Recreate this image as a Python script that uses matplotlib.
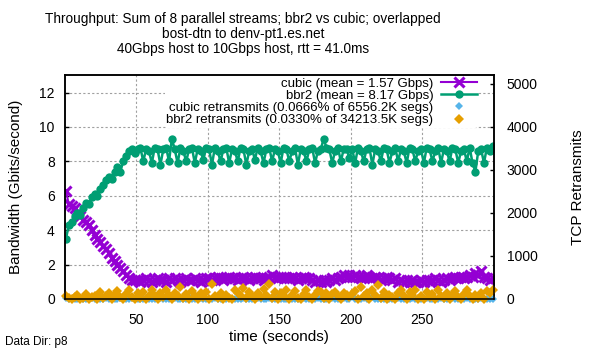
import matplotlib
matplotlib.use("Agg")
import matplotlib.pyplot as plt
import numpy as np

plt.rcParams['font.family'] = ['Liberation Sans', 'DejaVu Sans']

# time samples (seconds), one every 2 s
t = np.arange(1, 300, 2)

# throughput in Gbps
cubic = [6.3, 5.5, 5.4, 5.3, 5.0, 4.8, 4.6, 4.5, 4.3, 4.0, 3.7, 3.5, 3.3, 3.1, 2.9, 2.7, 2.4, 2.2, 2.0, 1.8, 1.6, 1.4, 1.2, 1.1, 1.1,
         1.1, 1.0, 1.1, 1.2, 1.1, 1.0, 1.1, 1.2, 1.1, 1.1, 1.0, 1.2, 1.1, 1.2, 1.1, 1.0, 1.1, 1.2, 1.1, 1.1, 1.2, 1.1, 1.0, 1.1, 1.2,
         1.2, 1.1, 1.2, 1.3, 1.2, 1.1, 1.2, 1.3, 1.2, 1.2, 1.1, 1.2, 1.3, 1.2, 1.1, 1.2, 1.3, 1.2, 1.2, 1.1, 1.2, 1.3, 1.4, 1.3, 1.2,
         1.3, 1.2, 1.3, 1.2, 1.3, 1.2, 1.1, 1.2, 1.3, 1.2, 1.2, 1.1, 1.0, 1.1, 1.0, 1.1, 1.0, 1.1, 1.2, 1.1, 1.2, 1.3, 1.4, 1.3, 1.4,
         1.3, 1.4, 1.3, 1.2, 1.3, 1.4, 1.3, 1.2, 1.3, 1.2, 1.1, 1.2, 1.3, 1.2, 1.1, 1.2, 1.0, 1.1, 1.0, 1.1, 1.0, 1.1, 1.0, 1.0, 1.1,
         1.0, 1.1, 1.0, 1.1, 1.2, 1.1, 1.0, 1.1, 1.2, 1.1, 1.2, 1.3, 1.2, 1.3, 1.2, 1.3, 1.4, 1.3, 1.5, 1.4, 1.6, 1.3, 1.2, 1.1, 1.2]

bbr2 = [3.5, 4.3, 4.5, 4.8, 5.0, 4.9, 5.3, 5.6, 5.5, 5.9, 6.1, 6.0, 6.4, 6.6, 6.9, 7.1, 7.0, 7.4, 7.7, 7.4, 8.0, 8.3, 8.6, 8.7, 8.5,
        8.7, 8.8, 8.0, 8.7, 8.6, 7.9, 8.8, 8.7, 7.8, 8.7, 8.8, 8.0, 9.3, 8.7, 7.9, 8.8, 8.6, 8.0, 8.7, 8.8, 7.9, 8.7, 8.6, 8.1, 8.8,
        8.7, 7.8, 8.8, 8.6, 8.0, 8.7, 8.8, 7.9, 8.7, 8.6, 8.0, 8.8, 8.7, 7.8, 8.6, 8.7, 8.1, 8.8, 8.6, 7.9, 8.7, 8.8, 8.0, 8.7, 8.6,
        7.9, 8.8, 8.7, 8.0, 8.6, 8.8, 7.8, 8.7, 8.6, 8.0, 8.7, 8.8, 7.9, 8.6, 8.7, 9.3, 8.8, 8.7, 7.9, 8.6, 8.8, 8.0, 8.7, 8.7, 8.2,
        8.7, 7.9, 8.8, 8.6, 8.0, 8.7, 8.8, 7.8, 8.7, 8.6, 8.0, 8.8, 8.7, 7.9, 8.6, 8.8, 8.0, 8.7, 8.6, 7.9, 8.8, 8.7, 8.0, 8.6, 8.7,
        7.9, 8.8, 8.7, 8.0, 8.6, 8.8, 7.9, 8.7, 8.6, 8.0, 8.8, 8.7, 7.9, 8.6, 8.7, 8.0, 8.8, 7.9, 7.4, 8.6, 8.7, 7.9, 8.8, 8.6, 8.9]

# retransmitted segments per sample
cubic_retr = [20, 0, 10, 0, 0, 30, 0, 10, 0, 20, 0, 0, 10, 0, 30, 0, 10, 0, 0, 20, 0, 10, 0, 30, 0,
              0, 10, 0, 20, 0, 0, 10, 0, 30, 0, 10, 0, 0, 20, 0, 10, 0, 0, 40, 0, 10, 0, 20, 0, 0,
              10, 0, 20, 0, 0, 10, 0, 30, 0, 0, 10, 0, 20, 0, 10, 0, 0, 30, 0, 10, 0, 20, 0, 0, 100,
              0, 10, 0, 20, 0, 0, 10, 0, 30, 0, 10, 0, 0, 20, 0, 10, 0, 0, 30, 0, 10, 0, 20, 0, 0,
              60, 0, 10, 0, 20, 0, 0, 50, 0, 10, 0, 0, 30, 0, 10, 0, 20, 0, 0, 10, 0, 30, 0, 10, 0,
              0, 20, 0, 10, 0, 0, 30, 0, 10, 0, 20, 0, 0, 10, 0, 30, 0, 10, 0, 0, 20, 0, 10, 0, 0]

bbr2_retr = [60, 20, 0, 40, 90, 0, 30, 120, 0, 50, 80, 0, 170, 20, 60, 140, 0, 90, 180, 40, 0, 110, 200, 50, 0,
             130, 30, 170, 0, 80, 210, 60, 0, 150, 40, 220, 90, 0, 130, 60, 270, 20, 110, 0, 190, 70, 0, 130, 40, 160,
             0, 350, 60, 20, 150, 0, 90, 30, 0, 200, 130, 60, 250, 20, 170, 80, 0, 140, 40, 230, 100, 350, 30, 170, 0,
             140, 60, 220, 0, 90, 180, 30, 0, 120, 210, 50, 0, 90, 190, 160, 20, 130, 0, 110, 170, 60, 0, 150, 100, 40,
             120, 190, 0, 280, 60, 140, 0, 220, 90, 320, 30, 160, 0, 100, 40, 0, 130, 210, 60, 0, 170, 90, 220, 0, 60,
             0, 160, 40, 110, 0, 200, 70, 20, 150, 0, 90, 180, 40, 0, 120, 210, 60, 0, 100, 30, 150, 0, 180, 130, 200]

labels = ["cubic (mean = 1.57 Gbps)", "bbr2 (mean = 8.17 Gbps)",
          "cubic retransmits (0.0666% of 6556.2K segs)",
          "bbr2 retransmits (0.0330% of 34213.5K segs)"]

fs = 10
fig = plt.figure(figsize=(6, 3.5), dpi=100)
ax = fig.add_axes([64.5 / 600, 1 - 299 / 350, (494 - 64.5) / 600, (299 - 75.3) / 350])
ax2 = ax.twinx()

# throughput lines
l1, = ax.plot(t, cubic, color='#9400D3', lw=1.5, marker='x', ms=7, mew=2.2, label=labels[0])
l2, = ax.plot(t, bbr2, color='#009E73', lw=1.8, marker='o', ms=6, mew=0, label=labels[1])

# retransmits on second axis
l3, = ax2.plot(t, cubic_retr, ls='none', color='#56B4E9', marker='D', ms=4.5, mew=0, clip_on=False, label=labels[2])
l4, = ax2.plot(t, bbr2_retr, ls='none', color='#E69F00', marker='D', ms=5, mew=0, clip_on=False, label=labels[3])

ax.set_xlim(0, 300)
ax.set_ylim(0, 13)
ax2.set_ylim(0, 5200)
ax.set_xticks([50, 100, 150, 200, 250])
ax.set_yticks(range(0, 13, 2))
ax2.set_yticks(range(0, 5001, 1000))

ax.grid(True, color='#a0a0a0', ls=(0, (2, 2)), lw=0.8)
ax.set_axisbelow(True)

for a in (ax, ax2):
    for s in a.spines.values():
        s.set_linewidth(1.1)
ax.tick_params(axis='y', direction='in', length=3, width=1, labelsize=fs, pad=7)
ax.tick_params(axis='x', direction='in', length=3, width=1, labelsize=fs, pad=10)
ax2.tick_params(direction='in', length=3, width=1, labelsize=fs, pad=9)

ax.set_xlabel("time (seconds)", fontsize=fs + 1, labelpad=2)
ax.set_ylabel("Bandwidth (Gbits/second)", fontsize=fs + 1, labelpad=12)
ax2.set_ylabel("TCP Retransmits", fontsize=fs + 1, labelpad=24)

fig.text(243 / 600, 1 - 12 / 350,
         "Throughput: Sum of 8 parallel streams; bbr2 vs cubic; overlapped\n"
         "bost-dtn to denv-pt1.es.net\n"
         "40Gbps host to 10Gbps host, rtt = 41.0ms",
         ha='center', va='top', fontsize=9.8, linespacing=1.1)
fig.text(5 / 600, 1 - 342 / 350, "Data Dir: p8", fontsize=8.5, va='center')

leg = ax2.legend(handles=[l1, l2, l3, l4], loc='upper right', bbox_to_anchor=(478 / 600, 1 - 76 / 350),
                 bbox_transform=fig.transFigure, markerfirst=False, numpoints=1, frameon=True,
                 fontsize=9.5, labelspacing=0.0, handlelength=2.7, handletextpad=0.6,
                 borderpad=0.1, borderaxespad=0)
leg.get_frame().set_edgecolor('none')
leg.get_frame().set_facecolor('white')
leg.get_frame().set_alpha(1)
for txt in leg.get_texts():
    txt.set_ha('right')
leg._legend_box.align = "right"

fig.savefig("out.png", dpi=100)
